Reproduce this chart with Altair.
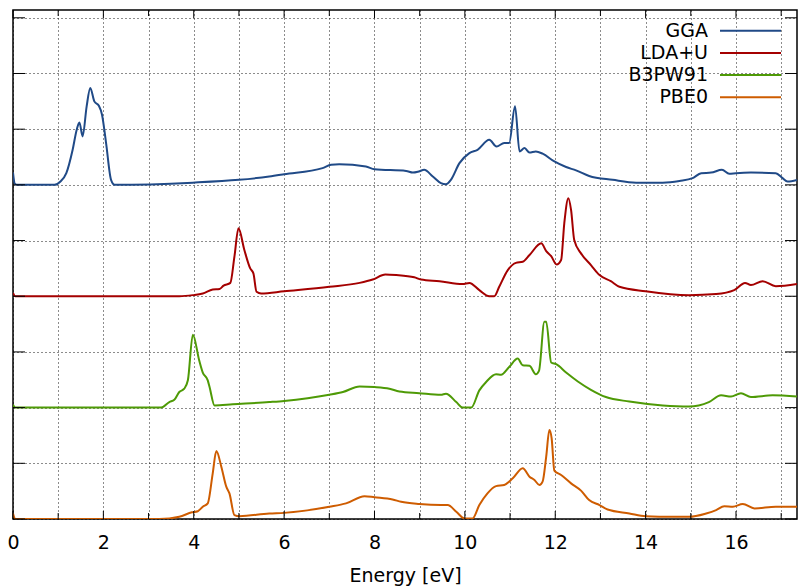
import altair as alt
import pandas as pd

# ---------------- data ----------------
series_names = ["GGA", "LDA+U", "B3PW91", "PBE0"]
series_colors = ["#204a87", "#a40000", "#4e9a06", "#ce5c00"]
series_offsets = [6, 4, 2, 0]

gga_e = [0.0, 0.04, 0.1, 0.92, 1.05, 1.18, 1.32, 1.41, 1.47, 1.54, 1.63, 1.71, 1.80, 1.90, 1.97,
         2.06, 2.17, 2.25, 3.98, 5.0, 5.67, 6.0, 6.85, 7.04, 7.22, 7.81, 8.0, 8.70, 8.85, 8.98,
         9.10, 9.29, 9.47, 9.58, 9.69, 9.88, 10.10, 10.28, 10.54, 10.70, 10.87, 10.98, 11.11,
         11.21, 11.32, 11.43, 11.57, 11.72, 11.98, 12.24, 12.46, 12.75, 13.27, 13.79, 14.38,
         14.75, 15.04, 15.23, 15.45, 15.69, 15.85, 16.0, 16.33, 16.88, 17.03, 17.14, 17.35]
gga_v = [0.22, 0.02, 0.0, 0.0, 0.06, 0.21, 0.63, 0.99, 1.12, 0.87, 1.41, 1.74, 1.50, 1.42, 1.26,
         0.75, 0.09, 0.0, 0.04, 0.09, 0.15, 0.19, 0.30, 0.36, 0.37, 0.33, 0.28, 0.25, 0.22, 0.24,
         0.27, 0.15, 0.03, 0.01, 0.09, 0.39, 0.57, 0.63, 0.81, 0.69, 0.75, 0.75, 1.41,
         0.60, 0.66, 0.58, 0.60, 0.56, 0.42, 0.32, 0.26, 0.16, 0.09, 0.04, 0.04,
         0.07, 0.12, 0.21, 0.22, 0.27, 0.20, 0.21, 0.22, 0.21, 0.12, 0.06, 0.09]

lda_e = [0.0, 0.05, 3.68, 3.98, 4.2, 4.42, 4.57, 4.66, 4.81, 4.90, 4.99, 5.12, 5.25, 5.32, 5.39,
         5.49, 6.0, 7.0, 7.67, 7.96, 8.24, 8.48, 8.88, 9.03, 9.44, 9.95, 10.1, 10.32, 10.54,
         10.65, 10.76, 10.95, 11.13, 11.28, 11.43, 11.69, 11.80, 11.91, 12.03, 12.13, 12.20,
         12.29, 12.35, 12.42, 12.57, 12.79, 12.98, 13.23, 13.42, 14.0, 14.96, 15.56, 15.96,
         16.2, 16.33, 16.59, 16.88, 17.35]
lda_v = [0.06, 0.0, 0.0, 0.02, 0.05, 0.12, 0.13, 0.19, 0.24, 0.71, 1.22, 0.83, 0.50, 0.41, 0.08,
         0.05, 0.09, 0.17, 0.24, 0.30, 0.39, 0.38, 0.34, 0.30, 0.27, 0.22, 0.24, 0.11, 0.0,
         0.0, 0.17, 0.47, 0.60, 0.62, 0.74, 0.95, 0.81, 0.72, 0.57, 0.65, 1.31,
         1.76, 1.55, 1.01, 0.77, 0.56, 0.38, 0.27, 0.17, 0.09, 0.02, 0.04, 0.11,
         0.24, 0.20, 0.27, 0.18, 0.22]

b3_e = [0.0, 0.05, 3.28, 3.46, 3.57, 3.68, 3.79, 3.87, 3.98, 4.12, 4.20, 4.31, 4.35, 4.46, 4.86,
        5.67, 6.0, 7.0, 7.30, 7.67, 8.0, 8.33, 8.55, 8.99, 9.47, 9.58, 9.81, 9.95, 10.14, 10.32,
        10.47, 10.69, 10.80, 10.98, 11.17, 11.28, 11.43, 11.57, 11.64, 11.76, 11.80, 11.91,
        12.02, 12.24, 12.50, 12.79, 13.12, 13.64, 14.38, 14.96, 15.40, 15.67, 15.89, 16.11,
        16.33, 16.81, 17.35]
b3_v = [0.05, 0.0, 0.0, 0.10, 0.14, 0.28, 0.34, 0.49, 1.31, 0.85, 0.63, 0.49, 0.37, 0.04, 0.06,
        0.10, 0.12, 0.23, 0.28, 0.38, 0.37, 0.34, 0.29, 0.26, 0.23, 0.25, 0.10, 0.0, 0.0, 0.31,
        0.46, 0.60, 0.59, 0.73, 0.88, 0.76, 0.75, 0.60, 0.66, 1.54, 1.54, 0.81,
        0.78, 0.63, 0.47, 0.32, 0.19, 0.11, 0.04, 0.02, 0.10, 0.22, 0.20, 0.26,
        0.19, 0.22, 0.20]

pbe_e = [0.0, 0.05, 3.24, 3.68, 3.96, 4.09, 4.20, 4.31, 4.42, 4.50, 4.61, 4.72, 4.79, 4.90, 5.01,
         5.67, 6.0, 7.0, 7.37, 7.78, 8.0, 8.4, 8.59, 8.99, 9.47, 9.62, 9.81, 9.99, 10.17, 10.32,
         10.50, 10.69, 10.87, 11.06, 11.28, 11.43, 11.54, 11.65, 11.72, 11.80, 11.87, 11.92,
         11.98, 12.13, 12.35, 12.57, 12.75, 12.98, 13.16, 13.64, 14.0, 14.6, 14.96, 15.34,
         15.56, 15.74, 15.93, 16.15, 16.41, 16.88, 17.35]
pbe_v = [0.10, 0.0, 0.0, 0.04, 0.12, 0.14, 0.22, 0.28, 0.82, 1.22, 0.94, 0.58, 0.46, 0.07, 0.05,
         0.10, 0.11, 0.22, 0.28, 0.41, 0.39, 0.35, 0.31, 0.27, 0.25, 0.25, 0.13, 0.01, 0.01, 0.25,
         0.46, 0.59, 0.61, 0.73, 0.91, 0.76, 0.70, 0.61, 0.67, 1.12, 1.60, 1.45,
         0.87, 0.79, 0.64, 0.51, 0.34, 0.25, 0.17, 0.10, 0.05, 0.04, 0.04, 0.10,
         0.16, 0.23, 0.22, 0.27, 0.19, 0.22, 0.22]

x_ticks = list(range(0, 18))
y_ticks = list(range(0, 10))
x_domain = [0, 17.35]
y_domain = [0, 9.14]

# ---------------- build table ----------------
rows = []
for name, off, es, vs in zip(series_names, series_offsets,
                             [gga_e, lda_e, b3_e, pbe_e], [gga_v, lda_v, b3_v, pbe_v]):
    for i, (e, v) in enumerate(zip(es, vs)):
        rows.append({"series": name, "energy": e, "dos": v + off, "order": i})
df = pd.DataFrame(rows)

W, H = 784, 509
FONT = "DejaVu Sans"

xscale = alt.Scale(domain=x_domain, nice=False, zero=False)
yscale = alt.Scale(domain=y_domain, nice=False, zero=False)

x_axis = alt.Axis(values=x_ticks, title="Energy [eV]", grid=True, ticks=False, domain=False,
                  labelExpr="datum.value % 2 == 0 ? datum.label : ''",
                  labelFontSize=19, labelFont=FONT, labelColor="#000000", labelPadding=14,
                  titleFontSize=19, titleFont=FONT, titleFontWeight="normal", titleColor="#000000",
                  titlePadding=14, labelFlush=False,
                  gridDash=[1, 3], gridColor="#000000", gridWidth=1, gridOpacity=0.9)
y_axis = alt.Axis(values=y_ticks, title=None, labels=False, ticks=False, domain=False, grid=True,
                  gridDash=[1, 3], gridColor="#000000", gridWidth=1, gridOpacity=0.9)

lines = alt.Chart(df).mark_line(strokeWidth=2, interpolate="monotone", clip=True).encode(
    x=alt.X("energy:Q", scale=xscale, axis=x_axis),
    y=alt.Y("dos:Q", scale=yscale, axis=y_axis),
    color=alt.Color("series:N", scale=alt.Scale(domain=series_names, range=series_colors), legend=None),
    order="order:Q",
    detail="series:N",
)

# inward tick marks (gnuplot style)
xt = pd.DataFrame({"t": x_ticks, "major": [t % 2 == 0 for t in x_ticks]})
yt = pd.DataFrame({"t": y_ticks})

def xtick(y0, y1, major):
    d = xt[xt["major"] == major]
    return alt.Chart(d).mark_rule(color="black", strokeWidth=1).encode(
        x=alt.X("t:Q", scale=xscale), y=alt.value(y0), y2=alt.value(y1))

tick_layers = [
    xtick(H, H - 8, True), xtick(H, H - 6, False),
    xtick(0, 8, True), xtick(0, 6, False),
    alt.Chart(yt).mark_rule(color="black", strokeWidth=1).encode(
        y=alt.Y("t:Q", scale=yscale), x=alt.value(0), x2=alt.value(12)),
    alt.Chart(yt).mark_rule(color="black", strokeWidth=1).encode(
        y=alt.Y("t:Q", scale=yscale), x=alt.value(W), x2=alt.value(W - 12)),
]

# legend (text on the left, line sample on the right, as in gnuplot)
legend_layers = []
for i, (name, col) in enumerate(zip(series_names, series_colors)):
    yy = 20.7 + 22.2 * i
    d = pd.DataFrame({"name": [name]})
    legend_layers.append(alt.Chart(d).mark_text(align="right", baseline="middle", fontSize=19,
                                                font=FONT, color="#000000").encode(
        text="name:N", x=alt.value(695), y=alt.value(yy)))
    legend_layers.append(alt.Chart(d).mark_rule(color=col, strokeWidth=2).encode(
        x=alt.value(707), x2=alt.value(768), y=alt.value(yy)))

chart = alt.layer(lines, *tick_layers, *legend_layers).properties(
    width=W, height=H,
    autosize=alt.AutoSizeParams(type="none"),
    padding={"left": 13, "top": 10, "right": 1, "bottom": 68},
    background="white",
).configure_view(stroke="black", strokeWidth=1.5)

chart.save("out.html", embed_options={"renderer": "svg", "actions": False})
